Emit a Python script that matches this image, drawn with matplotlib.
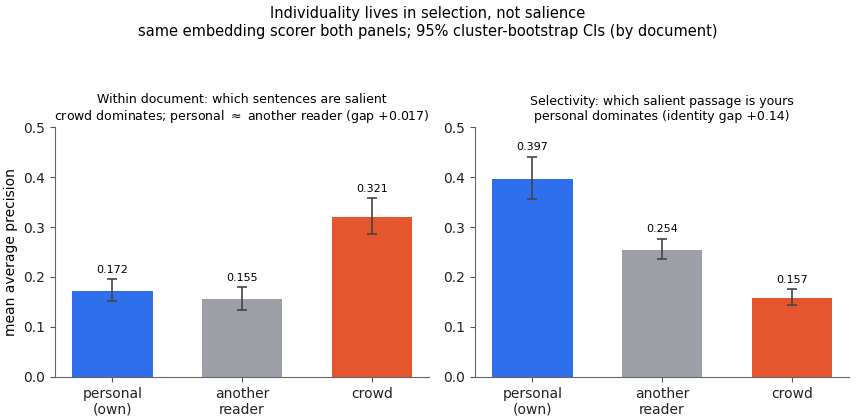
import matplotlib
matplotlib.use("Agg")
import matplotlib.pyplot as plt
import numpy as np

categories = ["personal\n(own)", "another\nreader", "crowd"]
colors = ["#2F6FEB", "#9CA0A6", "#E4572E"]

within_vals = [0.172, 0.155, 0.321]
within_lo = [0.151, 0.133, 0.286]
within_hi = [0.195, 0.179, 0.358]

select_vals = [0.397, 0.254, 0.157]
select_lo = [0.357, 0.235, 0.144]
select_hi = [0.441, 0.277, 0.175]

titles = ["Within document: which sentences are salient\ncrowd dominates; personal $\\approx$ another reader (gap +0.017)",
          "Selectivity: which salient passage is yours\npersonal dominates (identity gap +0.14)"]

fig = plt.figure(figsize=(8.56, 4.2), dpi=100)
ax1 = fig.add_axes([0.0643, 0.1024, 0.437, 0.5952])
ax2 = fig.add_axes([0.555, 0.1024, 0.437, 0.5952])

for ax, vals, lo, hi, title in [(ax1, within_vals, within_lo, within_hi, titles[0]),
                                (ax2, select_vals, select_lo, select_hi, titles[1])]:
    x = np.arange(len(categories))
    vals_a = np.array(vals)
    err = np.array([vals_a - np.array(lo), np.array(hi) - vals_a])
    ax.bar(x, vals_a, width=0.62, color=colors, yerr=err, capsize=3.3,
           error_kw=dict(ecolor="#444444", elinewidth=1.2, capthick=1.2))
    for xi, v, h in zip(x, vals, hi):
        ax.annotate(f"{v:.3f}", (xi, h), xytext=(0, 3), textcoords="offset points",
                    ha="center", va="bottom", fontsize=8)
    ax.set_xticks(x)
    ax.set_xticklabels(categories, fontsize=10)
    ax.set_ylim(0, 0.5)
    ax.set_yticks(np.arange(0, 0.51, 0.1))
    ax.tick_params(axis="y", labelsize=10)
    ax.tick_params(colors="#555555", labelcolor="#222222")
    for s in ["left", "bottom"]:
        ax.spines[s].set_color("#666666")
    ax.spines["top"].set_visible(False)
    ax.spines["right"].set_visible(False)
    ax.set_title(title, fontsize=9, pad=5)

ax1.set_ylabel("mean average precision", fontsize=10)
fig.suptitle("Individuality lives in selection, not salience\nsame embedding scorer both panels; 95% cluster-bootstrap CIs (by document)",
             fontsize=10.5, y=0.985)
fig.savefig("out.png", dpi=100)
